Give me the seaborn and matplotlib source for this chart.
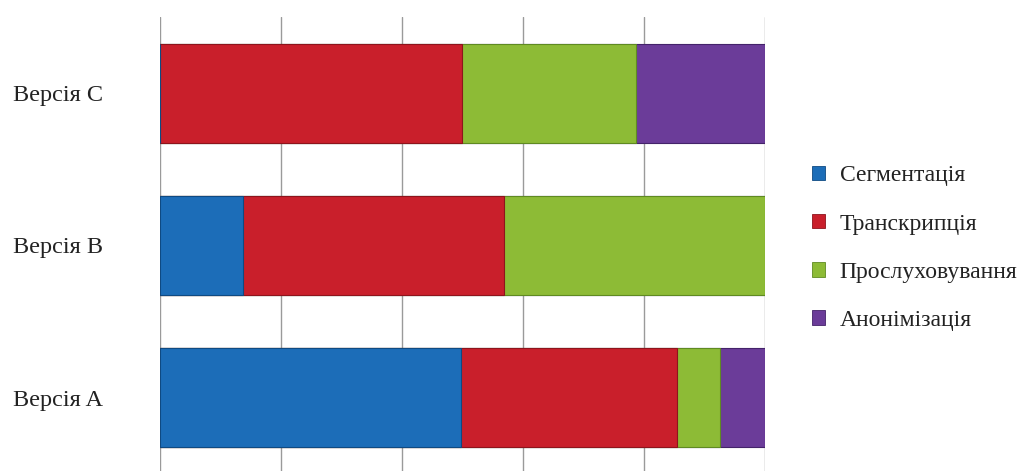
import matplotlib
matplotlib.use("Agg")
import matplotlib.pyplot as plt
from matplotlib.patches import Patch
import seaborn as sns
import numpy as np
import pandas as pd

categories = ["Версія C", "Версія B", "Версія A"]
series_names = ["Сегментація", "Транскрипція", "Прослуховування", "Анонімізація"]
segmentation = [0.0, 13.7, 49.7]
transcription = [50.0, 43.1, 35.7]
listening = [28.6, 43.2, 7.2]
anonymization = [21.4, 0.0, 7.4]
colors = ["#1c6db8", "#c91f2b", "#8dbb36", "#6b3c99"]
edge_colors = ["#0f4a82", "#8e141c", "#5f8a22", "#44236a"]

sns.set_theme(style="white")
serif = ['Liberation Serif', 'DejaVu Serif']
plt.rcParams['font.family'] = serif

fig = plt.figure(figsize=(10.30, 4.71), dpi=100)
ax = fig.add_axes([160/1030, 1 - 474/471, 605/1030, (474 - 17)/471])

series = [segmentation, transcription, listening, anonymization]
cum = np.cumsum(np.array(series), axis=0)
df = pd.DataFrame({"cat": categories})
# draw from the largest cumulative to the smallest so stacks overlay
for i in range(len(series) - 1, -1, -1):
    df["val"] = cum[i]
    sns.barplot(data=df, x="val", y="cat", color=colors[i], orient="h",
                width=0.65, ax=ax, saturation=1, edgecolor=edge_colors[i],
                linewidth=0.8, zorder=3)

ax.set_xlim(0, 100)
ax.set_ylim(2.5, -0.5)
ax.set_xticks([0, 20, 40, 60, 80, 100])
ax.set_xticklabels([])
ax.grid(axis="x", color="#9a9a9a", linewidth=1.0, zorder=0)
ax.grid(axis="y", visible=False)
for s in ax.spines.values():
    s.set_visible(False)
ax.set_xlabel("")
ax.set_ylabel("")
ax.tick_params(axis="y", length=0, pad=41, labelsize=17.5, labelcolor="#222222")
ax.tick_params(axis="x", length=0)
for t in ax.get_yticklabels():
    t.set_fontfamily(serif)

handles = [Patch(facecolor=c, edgecolor=e, linewidth=0.6) for c, e in zip(colors, edge_colors)]
leg = fig.legend(handles, series_names, loc="upper left",
                 bbox_to_anchor=(803/1030, 1 - 156/471), frameon=False,
                 prop={"family": serif, "size": 17},
                 handlelength=0.55, handleheight=0.55,
                 handletextpad=0.6, labelspacing=1.15, borderaxespad=0)
for t in leg.get_texts():
    t.set_color("#222222")

fig.savefig("out.png", dpi=100)
